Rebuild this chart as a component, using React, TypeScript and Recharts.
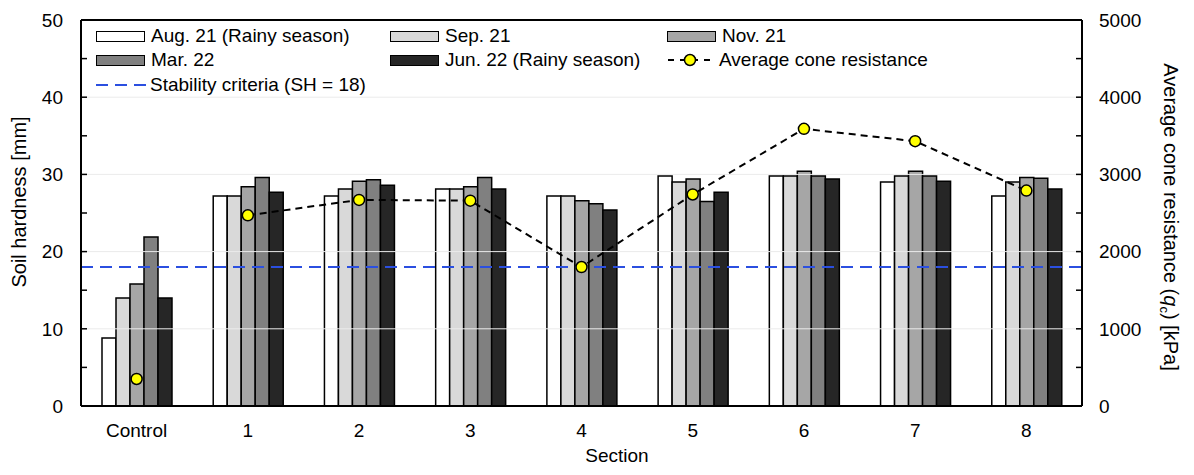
import {
	Bar,
	ComposedChart,
	Line,
	ReferenceLine,
	XAxis,
	YAxis,
} from "recharts";

const sections = ["Control", "1", "2", "3", "4", "5", "6", "7", "8"];
const aug21 = [8.8, 27.2, 27.2, 28.1, 27.2, 29.8, 29.8, 29.0, 27.2];
const sep21 = [14.0, 27.2, 28.1, 28.1, 27.2, 29.0, 29.8, 29.8, 29.0];
const nov21 = [15.8, 28.4, 29.1, 28.4, 26.6, 29.4, 30.4, 30.4, 29.6];
const mar22 = [21.9, 29.6, 29.3, 29.6, 26.2, 26.5, 29.8, 29.8, 29.5];
const jun22 = [14.0, 27.7, 28.6, 28.1, 25.4, 27.7, 29.4, 29.1, 28.1];
const coneResistance = [350, 2470, 2670, 2660, 1800, 2740, 3590, 3430, 2790];

const leftTicks = [0, 5, 10, 15, 20, 25, 30, 35, 40, 45, 50];
const rightTicks = [0, 500, 1000, 1500, 2000, 2500, 3000, 3500, 4000, 4500, 5000];
const gridValues = [10, 20, 30, 40];
const stabilityCriteria = 18;

const FONT = "'Liberation Sans', Arial, sans-serif";

// control plot is shown as a lone dot, the sections 1-8 are joined by the dashed line
const data = sections.map((section, i) => ({
	section,
	aug: aug21[i],
	sep: sep21[i],
	nov: nov21[i],
	mar: mar22[i],
	jun: jun22[i],
	coneControl: i === 0 ? coneResistance[i] : null,
	cone: i === 0 ? null : coneResistance[i],
}));

const barSeries = [
	{ key: "aug", name: "Aug. 21 (Rainy season)", fill: "#ffffff" },
	{ key: "sep", name: "Sep. 21", fill: "#d9d9d9" },
	{ key: "nov", name: "Nov. 21", fill: "#a6a6a6" },
	{ key: "mar", name: "Mar. 22", fill: "#808080" },
	{ key: "jun", name: "Jun. 22 (Rainy season)", fill: "#262626" },
];

const coneDot = { r: 5.5, fill: "#ffff00", stroke: "#000", strokeWidth: 1.5, strokeDasharray: "" };

function LeftTitle() {
	return (
		<text
			x={0}
			y={0}
			transform="translate(26, 202) rotate(-90)"
			textAnchor="middle"
			fontSize={20}
			fontFamily={FONT}
			fill="#000"
		>
			Soil hardness [mm]
		</text>
	);
}

function RightTitle() {
	return (
		<text
			x={0}
			y={0}
			transform="translate(1164, 217) rotate(90)"
			textAnchor="middle"
			fontSize={20}
			fontFamily={FONT}
			fill="#000"
		>
			Average cone resistance (
			<tspan fontStyle="italic">q</tspan>
			<tspan dy={4} fontSize={13}>c</tspan>
			<tspan dy={-4}>) [kPa]</tspan>
		</text>
	);
}

function BottomTitle() {
	return (
		<text x={617} y={462} textAnchor="middle" fontSize={19} fontFamily={FONT} fill="#000">
			Section
		</text>
	);
}

function Swatch({ fill }: { fill: string }) {
	return (
		<div
			style={{
				width: 47,
				height: 9,
				background: fill,
				border: "1.5px solid #000",
				marginRight: 6,
			}}
		/>
	);
}

function LegendBox() {
	const item = (left: number, top: number, icon: React.ReactNode, label: string) => (
		<div
			key={label}
			style={{
				position: "absolute",
				left,
				top,
				display: "flex",
				alignItems: "center",
				height: 22,
				fontSize: 19,
				whiteSpace: "nowrap",
			}}
		>
			{icon}
			<span>{label}</span>
		</div>
	);
	const cols = [96, 390, 667];
	const rows = [25, 49];
	return (
		<div style={{ position: "absolute", left: 0, top: 0, fontFamily: FONT, color: "#000" }}>
			{barSeries.map((s, i) => {
				const pos = [0, 1, 2, 0, 1][i];
				const row = i < 3 ? 0 : 1;
				return item(cols[pos], rows[row], <Swatch fill={s.fill} />, s.name);
			})}
			{item(
				667,
				49,
				<svg width={46} height={14} style={{ marginRight: 6 }}>
					<line x1={0} y1={7} x2={46} y2={7} stroke="#000" strokeWidth={2} strokeDasharray="6 6" strokeDashoffset={-1} />
					<circle cx={23} cy={7} r={5.5} fill="#ffff00" stroke="#000" strokeWidth={1.5} />
				</svg>,
				"Average cone resistance",
			)}
			{item(
				96,
				74,
				<svg width={50} height={6} style={{ marginRight: 4 }}>
					<line x1={0} y1={3} x2={50} y2={3} stroke="#2b4fe0" strokeWidth={2} strokeDasharray="12 7" />
				</svg>,
				"Stability criteria (SH = 18)",
			)}
		</div>
	);
}

export default function App() {
	return (
		<div style={{ position: "absolute", left: 0, top: 0, width: 1194, height: 475, background: "#fff" }}>
			<ComposedChart
				width={1194}
				height={475}
				data={data}
				margin={{ top: 20, right: 0, bottom: 0, left: 0 }}
				barGap={0}
			>
				{gridValues.map((v) => (
					<ReferenceLine key={v} yAxisId="left" y={v} stroke="#ebebeb" strokeWidth={1} />
				))}
				<XAxis
					dataKey="section"
					height={69}
					tickLine={false}
					tickSize={0}
					tickMargin={18}
					axisLine={{ stroke: "#000", strokeWidth: 2 }}
					tick={{ fill: "#000", fontSize: 19, fontFamily: FONT }}
					interval={0}
					label={<BottomTitle />}
				/>
				<YAxis
					yAxisId="left"
					orientation="left"
					width={81}
					domain={[0, 50]}
					ticks={leftTicks}
					tickFormatter={(v: number) => (v % 10 === 0 ? String(v) : "")}
					tickSize={-6}
					tickMargin={24}
					tickLine={{ stroke: "#000", strokeWidth: 1.5 }}
					axisLine={{ stroke: "#000", strokeWidth: 2 }}
					tick={{ fill: "#000", fontSize: 19, fontFamily: FONT }}
					label={<LeftTitle />}
				/>
				<YAxis
					yAxisId="right"
					orientation="right"
					width={112}
					domain={[0, 5000]}
					ticks={rightTicks}
					tickFormatter={(v: number) => (v % 1000 === 0 ? String(v) : "")}
					tickSize={-6}
					tickMargin={23}
					tickLine={{ stroke: "#000", strokeWidth: 1.5 }}
					axisLine={{ stroke: "#000", strokeWidth: 2 }}
					tick={{ fill: "#000", fontSize: 19, fontFamily: FONT, textAnchor: "start" }}
					label={<RightTitle />}
				/>
				{barSeries.map((s) => (
					<Bar
						key={s.key}
						yAxisId="left"
						dataKey={s.key}
						name={s.name}
						fill={s.fill}
						stroke="#000"
						strokeWidth={1.5}
						barSize={14}
						isAnimationActive={false}
					/>
				))}
				<ReferenceLine
					yAxisId="left"
					y={stabilityCriteria}
					stroke="#2b4fe0"
					strokeWidth={2}
					strokeDasharray="12 7"
				/>
				<ReferenceLine yAxisId="left" y={50} stroke="#000" strokeWidth={2} />
				<Line
					yAxisId="right"
					dataKey="cone"
					name="Average cone resistance"
					type="linear"
					stroke="#000"
					strokeWidth={2}
					strokeDasharray="7 5"
					dot={coneDot}
					isAnimationActive={false}
				/>
				<Line
					yAxisId="right"
					dataKey="coneControl"
					type="linear"
					stroke="#000"
					strokeWidth={2}
					dot={coneDot}
					legendType="none"
					isAnimationActive={false}
				/>
			</ComposedChart>
			<LegendBox />
		</div>
	);
}
